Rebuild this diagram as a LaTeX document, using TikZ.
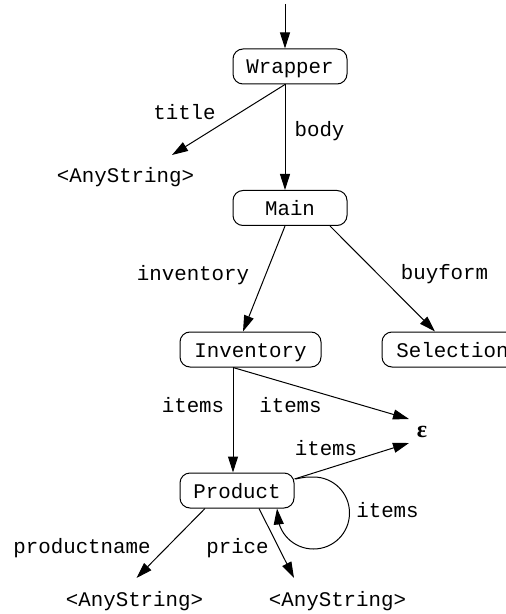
\documentclass[tikz,border=0pt]{standalone}
\usepackage{fontspec}
\setmainfont{Liberation Mono}
\newfontfamily\epsfont{Liberation Serif}
\usetikzlibrary{arrows.meta,calc}
\begin{document}
\begin{tikzpicture}[x=0.5pt,y=-0.5pt,
  every node/.style={font=\fontsize{10.4}{12}\selectfont},
  box/.style={draw,line width=0.5pt,rounded corners=5pt,inner xsep=0pt,inner ysep=0pt,text height=12.5pt,text depth=5pt,minimum width=57pt},
  lbl/.style={anchor=base,inner sep=0pt},
  conn/.style={line width=0.5pt,-{Triangle[length=8pt,width=5pt]}}]
\useasboundingbox (0,0) rectangle (505,614);
% boxes
\node[box] (W) at (290,66.5) {Wrapper};
\node[box] (M) at (290,208) {Main};
\node[box,minimum width=70.5pt] (I) at (250.5,349.5) {Inventory\hspace{5pt}};
\node[box,minimum width=70.5pt] (S) at (452.5,349.5) {Selection\hspace{4pt}};
\node[box] (P) at (237,490.5) {Product\hspace{4.5pt}};
% terminals
\node[lbl] (as1) at (125.5,183) {<AnyString>};
\node[lbl] (as2) at (134.5,606) {<AnyString>};
\node[lbl] (as3) at (337.5,606) {<AnyString>};
\node[inner sep=0pt,font=\epsfont\bfseries\fontsize{12}{12}\selectfont] (eps) at (422,432) {ε};
% labels
\node[lbl] (ltitle) at (184.5,120) {title};
\node[lbl] (lbody) at (319.5,137) {body};
\node[lbl] (linv) at (193,280) {inventory};
\node[lbl] (lbuy) at (444.5,279) {buyform};
\node[lbl] (li1) at (193,412) {items};
\node[lbl] (li2) at (290.5,412) {items};
\node[lbl] (li3) at (326,455) {items};
\node[lbl] (li4) at (387.5,517) {items};
\node[lbl] (lpn) at (82,553) {productname};
\node[lbl] (lpr) at (237.5,553) {price};
% connectors
\coordinate (entry) at (285,4);
\draw[conn] (entry) -- (entry |- W.north);
\draw[conn] ($(W.south)+(-5,0)$) -- ($(as1.base)+(46.5,-28)$);
\draw[conn] ($(W.south)+(-5,0)$) -- ($(M.north)+(-5,0)$);
\draw[conn] ($(M.south)+(-5,0)$) -- ($(I.north)+(-7.5,0)$);
\draw[conn] ($(M.south)+(40,0)$) -- ($(S.north)+(-17.5,0)$);
\draw[conn] ($(I.south)+(-17.5,0)$) -- ($(P.north)+(-4,0)$);
\draw[conn] ($(I.south)+(-17.5,0)$) -- ($(eps.center)+(-13,-13)$);
\draw[conn] ($(P.east)+(0,-11.5)$) -- ($(eps.center)+(-13,11)$);
\draw[conn] ($(P.south)+(-32,0)$) -- ($(as2.base)+(2,-28)$);
\draw[conn] ($(P.south)+(22,0)$) -- ($(as3.base)+(-43.5,-28)$);
\coordinate (lc) at ($(P.east)+(19,22.5)$);
\draw[conn] ($(P.east)+(1,-11.5)$) .. controls ($(lc)+(-8,-36)$) .. ($(lc)+(0,-36)$)
  .. controls ($(lc)+(20,-36)$) and ($(lc)+(36,-20)$) .. ($(lc)+(36,0)$)
  .. controls ($(lc)+(36,20)$) and ($(lc)+(20,36)$) .. ($(lc)+(0,36)$)
  .. controls ($(lc)+(-20,36)$) and ($(lc)+(-36,20)$) .. ($(lc)+(-36,0)$)
  -- ($(P.south)+(40,0)$);
\end{tikzpicture}
\end{document}
